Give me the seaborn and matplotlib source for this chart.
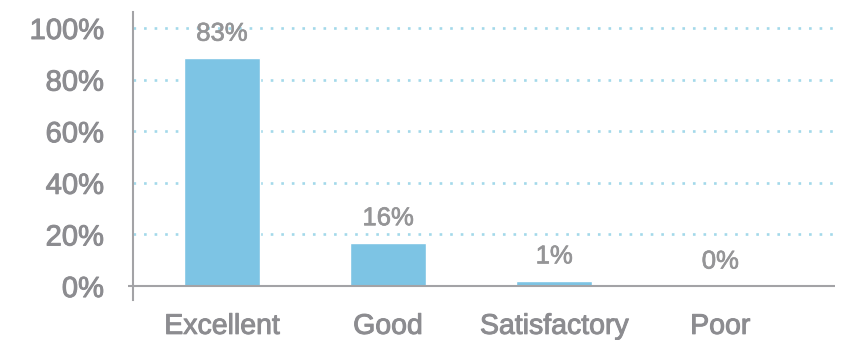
import matplotlib
matplotlib.use("Agg")
import matplotlib.pyplot as plt
import matplotlib.patheffects as pe
import seaborn as sns
import pandas as pd

categories = ["Excellent", "Good", "Satisfactory", "Poor"]
bar_heights = [88.3, 16.8, 2.0, 0.0]
value_labels = ["83%", "16%", "1%", "0%"]
y_ticks = [0, 20, 40, 60, 80, 100]
y_tick_labels = ["0%", "20%", "40%", "60%", "80%", "100%"]

df = pd.DataFrame({"category": categories, "value": bar_heights})

sns.set_theme(style="white")
plt.rcParams["font.family"] = ["Liberation Sans", "DejaVu Sans"]

text_gray = "#8c8c90"
bar_color = "#7dc4e4"
grid_color = "#a3d9ea"
axis_gray = "#a3a3a6"

fig = plt.figure(figsize=(8.45, 3.4), dpi=100)
ax = fig.add_axes([133 / 845, 40 / 340, 702 / 845, 288 / 340])

sns.barplot(data=df, x="category", y="value", color=bar_color, width=0.46,
            saturation=1, ax=ax, zorder=3)

ax.set_ylim(-5.4, 106.2)
ax.set_xlim(-0.536, 3.69)

for y in y_ticks[1:]:
    ax.axhline(y, color=grid_color, linestyle=(0, (1, 3.0)), linewidth=1.9, zorder=1)
ax.plot([-0.007, 1.0], [0, 0], transform=ax.get_yaxis_transform(), color=axis_gray,
        linewidth=1.5, zorder=4, clip_on=False, solid_capstyle="butt")

bold = [pe.withStroke(linewidth=0.7, foreground=text_gray)]
bold_v = [pe.withStroke(linewidth=0.5, foreground="#959597")]

for i, (h, lab) in enumerate(zip(bar_heights, value_labels)):
    ax.annotate(lab, (i, h), xytext=(0, 9), textcoords="offset points",
                ha="center", va="bottom", fontsize=18.5, color="#959597",
                path_effects=bold_v)

ax.set_yticks(y_ticks)
ax.set_yticklabels(y_tick_labels)
ax.tick_params(axis="y", length=0, pad=21, labelsize=21, labelcolor=text_gray)
ax.tick_params(axis="x", length=0, pad=10, labelsize=20.5, labelcolor=text_gray)
for t in ax.get_xticklabels() + ax.get_yticklabels():
    t.set_path_effects(bold)
ax.set_xlabel("")
ax.set_ylabel("")

for s in ["top", "right", "bottom"]:
    ax.spines[s].set_visible(False)
ax.spines["left"].set_color(axis_gray)
ax.spines["left"].set_linewidth(1.5)

fig.savefig("out.png", dpi=100)
